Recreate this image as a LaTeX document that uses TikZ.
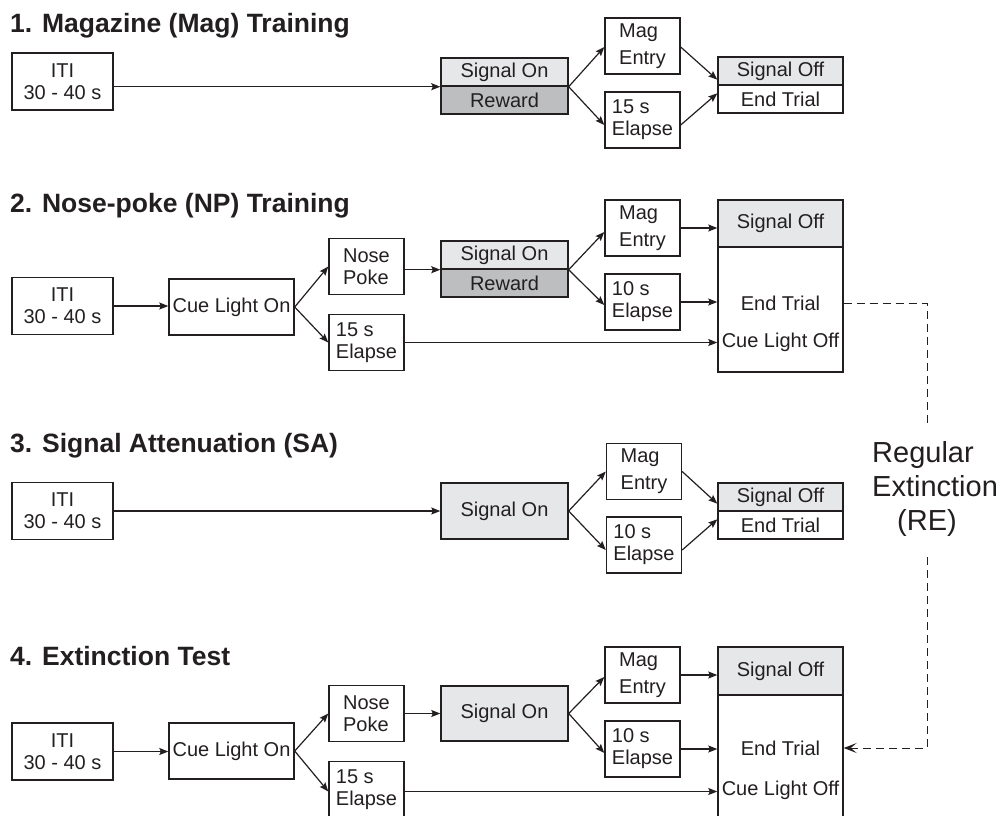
\documentclass[tikz,border=0pt]{standalone}
\usepackage{fontspec}
\setmainfont{Liberation Sans}
\usetikzlibrary{arrows.meta}
\definecolor{ink}{RGB}{35,31,32}
\definecolor{lightg}{RGB}{230,231,232}
\definecolor{darkg}{RGB}{188,190,192}
\begin{document}
\begin{tikzpicture}[x=1pt,y=-1pt,
  box/.style={draw=ink, line width=1.4pt, inner sep=0pt, text=ink, font=\fontsize{20}{22}\selectfont, align=center},
  lbox/.style={box, align=left},
  sm/.style={minimum width=75pt, minimum height=56pt},
  itibox/.style={box, minimum width=101pt, minimum height=57pt},
  cuebox/.style={box, minimum width=125pt, minimum height=56pt},
  halfon/.style={box, minimum width=127pt, minimum height=28pt},
  halfoff/.style={box, minimum width=125pt, minimum height=28pt},
  lbl/.style={inner sep=0pt, text=ink, font=\fontsize{20}{22}\selectfont},
  title/.style={anchor=base west, inner sep=0pt, text=ink, font=\fontsize{26.5}{30}\selectfont\bfseries},
  arr/.style={draw=ink, line width=1.2pt, -{Stealth[length=9pt,width=7pt,inset=1.5pt]}},
  reline/.style={draw=ink, line width=1pt, dash pattern=on 8pt off 5pt}
]
\useasboundingbox (0,0) rectangle (1005,815);
\clip (0,0) rectangle (1005,815);

% ---------- Panel 1 ----------
\node[title] (t1) at (10,32) {1. Magazine (Mag) Training};
\node[itibox] (iti1) at (62.5,81.5) {ITI\\30 - 40 s};
\node[halfon, fill=lightg] (son1) at (504.5,72) {Signal On};
\node[halfon, fill=darkg] (rew1) at (504.5,100) {Reward};
\node[lbox, sm] (mag1) at (642.5,46) {Mag\\[5pt]Entry};
\node[lbox, sm] (el1) at (642.5,120) {15 s\\Elapse};
\node[halfoff, fill=lightg] (off1) at (780.5,71) {Signal Off};
\node[halfoff] (end1) at (780.5,99) {End Trial};

\draw[arr] (son1.south west -| iti1.east) -- (son1.south west);
\draw[arr] (son1.south east) -- ([yshift=-1pt]mag1.west);
\draw[arr] (son1.south east) -- ([yshift=-5pt]el1.west);
\draw[arr] ([yshift=-1pt]mag1.east) -- ([yshift=6pt]off1.south west);
\draw[arr] ([yshift=-5pt]el1.east) -- ([yshift=-9pt]end1.north west);

% ---------- Panel 2 ----------
\node[title] (t2) at (10,212) {2. Nose-poke (NP) Training};
\node[itibox] (iti2) at (62.5,306) {ITI\\30 - 40 s};
\node[cuebox] (cue2) at (231.5,307) {Cue Light On};
\node[lbox, sm] (np2) at (366.5,266.5) {Nose\\Poke};
\node[lbox, sm] (ela2) at (366.5,342.5) {15 s\\Elapse};
\node[halfon, fill=lightg] (son2) at (504.5,255) {Signal On};
\node[halfon, fill=darkg] (rew2) at (504.5,283) {Reward};
\node[lbox, sm] (mag2) at (642.5,228) {Mag\\[5pt]Entry};
\node[lbox, sm] (elb2) at (642.5,302) {10 s\\Elapse};
\node[box, fill=lightg, minimum width=125pt, minimum height=47pt] (off2) at (780.5,223.5) {Signal Off};
\node[box, minimum width=125pt, minimum height=125pt] (endb2) at (780.5,309.5) {};
\node[lbl] (et2) at (780.5,303) {End Trial};
\node[lbl] (clo2) at (780.5,342) {Cue Light Off};

\draw[arr] (iti2.east) -- (iti2.east -| cue2.west);
\draw[arr] (cue2.east) -- (np2.west);
\draw[arr] (cue2.east) -- (ela2.west);
\draw[arr] (son2.south west -| np2.east) -- (son2.south west);
\draw[arr] (son2.south east) -- ([yshift=-4pt]mag2.west);
\draw[arr] (son2.south east) -- ([yshift=-3pt]elb2.west);
\draw[arr] (mag2.east) -- (mag2.east -| off2.west);
\draw[arr] (elb2.east) -- (elb2.east -| endb2.west);
\draw[arr] (ela2.east) -- (ela2.east -| endb2.west);

% ---------- Panel 3 ----------
\node[title] (t3) at (10,452) {3. Signal Attenuation (SA)};
\node[itibox] (iti3) at (62.5,511) {ITI\\30 - 40 s};
\node[box, fill=lightg, minimum width=127pt, minimum height=56pt] (son3) at (504.5,511) {Signal On};
\node[lbox, sm] (mag3) at (644,471.5) {Mag\\[5pt]Entry};
\node[lbox, sm] (el3) at (644,545) {10 s\\Elapse};
\node[halfoff, fill=lightg] (off3) at (780.5,497) {Signal Off};
\node[halfoff] (end3) at (780.5,525) {End Trial};

\draw[arr] (iti3.east) -- (son3.west);
\draw[arr] (son3.east) -- (mag3.west);
\draw[arr] (son3.east) -- ([yshift=-5pt]el3.west);
\draw[arr] (mag3.east) -- ([yshift=8pt]off3.south west);
\draw[arr] ([yshift=-5pt]el3.east) -- ([yshift=-9pt]end3.north west);

% ---------- Panel 4 ----------
\node[title] (t4) at (10,665) {4. Extinction Test};
\node[itibox] (iti4) at (62.5,751.5) {ITI\\30 - 40 s};
\node[cuebox] (cue4) at (231.5,751) {Cue Light On};
\node[lbox, sm] (np4) at (366.5,713.5) {Nose\\Poke};
\node[lbox, sm] (ela4) at (366.5,789.5) {15 s\\Elapse};
\node[box, fill=lightg, minimum width=127pt, minimum height=55pt] (son4) at (504.5,713.5) {Signal On};
\node[lbox, sm] (mag4) at (642.5,675) {Mag\\[5pt]Entry};
\node[lbox, sm] (elb4) at (642.5,749) {10 s\\Elapse};
\node[box, fill=lightg, minimum width=125pt, minimum height=48pt] (off4) at (780.5,671) {Signal Off};
\node[box, minimum width=125pt, minimum height=124pt] (endb4) at (780.5,757) {};
\node[lbl] (et4) at (780.5,748) {End Trial};
\node[lbl] (clo4) at (780.5,790) {Cue Light Off};

\draw[arr] (iti4.east) -- (iti4.east -| cue4.west);
\draw[arr] (cue4.east) -- (np4.west);
\draw[arr] (cue4.east) -- ([yshift=-2pt]ela4.west);
\draw[arr] (np4.east) -- (np4.east -| son4.west);
\draw[arr] (son4.east) -- ([yshift=-2pt]mag4.west);
\draw[arr] (son4.east) -- ([yshift=-4pt]elb4.west);
\draw[arr] (mag4.east) -- (mag4.east -| off4.west);
\draw[arr] (elb4.east) -- (elb4.east -| endb4.west);
\draw[arr] ([yshift=-2pt]ela4.east) -- ([yshift=-2pt]ela4.east -| endb4.west);

% ---------- Regular Extinction ----------
\node[anchor=north west, inner sep=0pt, align=left, text=ink,
      font=\fontsize{29}{34}\selectfont] (re) at (872,441)
      {Regular\\Extinction\\\hspace*{25pt}(RE)};
\coordinate (reTop) at (927,427);
\coordinate (reBot) at (927,557);
\draw[reline] (et2 -| endb2.east) -| (reTop);
\draw[reline, -{Stealth[length=13pt,width=10pt,inset=6pt]}] (reBot) |- (et4 -| endb4.east);
\end{tikzpicture}
\end{document}
